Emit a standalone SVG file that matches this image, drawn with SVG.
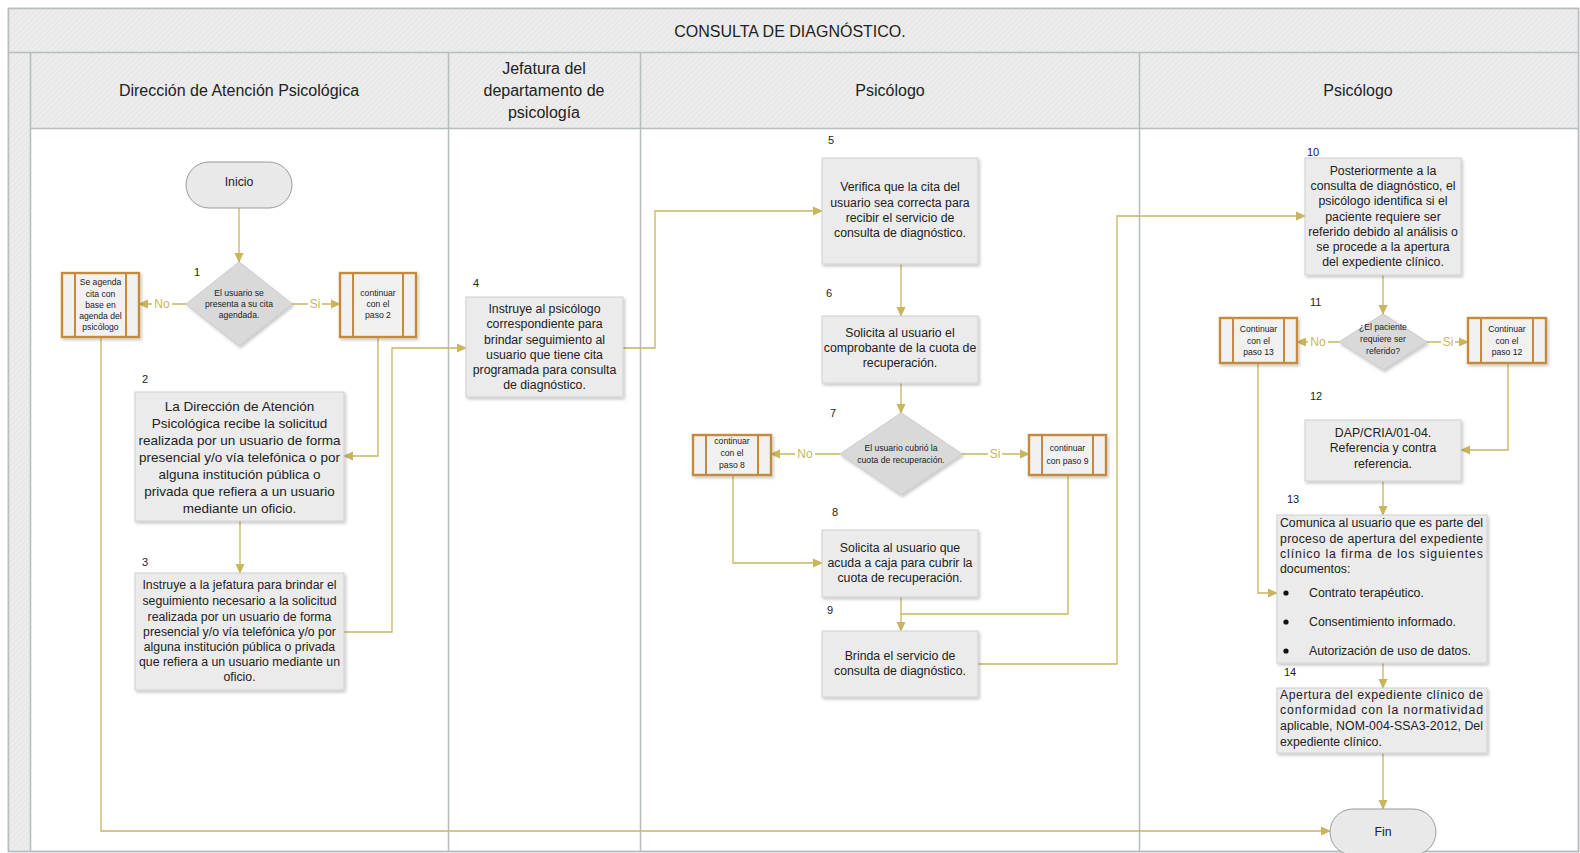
<svg xmlns="http://www.w3.org/2000/svg" width="1580" height="853" viewBox="0 0 1580 853">
<style>
text{font-family:"Liberation Sans",Arial,sans-serif;fill:#222}
.hd{font-size:16px;text-anchor:middle}
.bx{fill:#ebebeb;stroke:#cfcfcf;stroke-width:1;filter:url(#sh)}
.bt{font-size:12.3px;text-anchor:middle}
.num{font-size:11px}
.sp{fill:#f1f1f1;stroke:#c58a3a;stroke-width:2.4;filter:url(#sh)}
.spl{stroke:#c58a3a;stroke-width:2;fill:none}
.st{font-size:8.6px;text-anchor:middle}
.dm{fill:#d9d9d9;stroke:#c9c9c9;stroke-width:1;filter:url(#sh)}
.tm{fill:#e9e9e9;stroke:#9a9a9a;stroke-width:1}
.cn{fill:none;stroke:#c8b55e;stroke-width:1.3}
.ar{marker-end:url(#ah)}
.lb{font-size:12px;fill:#c8b55e;text-anchor:middle}
.lane{stroke:#b5bdbd;stroke-width:1.5;fill:none}
.hb{fill:url(#hatch)}
</style>
<defs>
<pattern id="hatch" width="4" height="4" patternUnits="userSpaceOnUse" patternTransform="rotate(45)">
<rect width="4" height="4" fill="#ececec"/>
<line x1="0" y1="0" x2="0" y2="4" stroke="#e3e3e3" stroke-width="1.5"/>
</pattern>
<filter id="sh" x="-10%" y="-10%" width="130%" height="130%">
<feDropShadow dx="1.5" dy="2" stdDeviation="1.5" flood-color="#000" flood-opacity="0.22"/>
</filter>
<marker id="ah" markerWidth="10" markerHeight="10" refX="9" refY="5" orient="auto" markerUnits="userSpaceOnUse">
<path d="M0,0.5 L10,5 L0,9.5 z" fill="#c8b55e"/>
</marker>
</defs>
<rect x="0" y="0" width="1580" height="853" fill="#fff"/>
<g id="pool">
<rect x="8.5" y="8.5" width="1570" height="843" fill="#fff" stroke="#b5bdbd" stroke-width="1.5"/>
<rect class="hb" x="8.5" y="8.5" width="1570" height="44"/>
<rect class="hb" x="8.5" y="52.5" width="22" height="799"/>
<rect class="hb" x="30.5" y="52.5" width="1548" height="76"/>
<path class="lane" d="M8.5,52.5 H1578.5 M30.5,128.5 H1578.5 M30.5,52.5 V851.5 M448.5,52.5 V851.5 M640.5,52.5 V851.5 M1139.5,52.5 V851.5 M8.5,8.5 H1578.5 V851.5 H8.5 Z"/>
<text class="hd" x="790" y="37">CONSULTA DE DIAGNÓSTICO.</text>
<text class="hd" x="239" y="96">Dirección de Atención Psicológica</text>
<text class="hd" x="544" y="74">Jefatura del</text>
<text class="hd" x="544" y="96">departamento de</text>
<text class="hd" x="544" y="118">psicología</text>
<text class="hd" x="890" y="96">Psicólogo</text>
<text class="hd" x="1358" y="96">Psicólogo</text>
</g>
<g id="connectors">
<path class="cn ar" d="M239,208 V262"/>
<path class="cn ar" d="M186,304 H139"/>
<path class="cn ar" d="M292,304 H340"/>
<path class="cn ar" d="M378,337 V456 H344"/>
<path class="cn ar" d="M240,521 V573"/>
<path class="cn ar" d="M344,632 H392 V348 H466"/>
<path class="cn ar" d="M623,348 H655 V211 H822"/>
<path class="cn ar" d="M901,264 V316"/>
<path class="cn ar" d="M901,383 V413"/>
<path class="cn ar" d="M840,454 H771"/>
<path class="cn ar" d="M962,454 H1029"/>
<path class="cn ar" d="M733,475 V563 H822"/>
<path class="cn ar" d="M901,597 V631"/>
<path class="cn" d="M1068,475 V614 H901"/>
<path class="cn ar" d="M978,664 H1117 V216 H1305"/>
<path class="cn ar" d="M1383,275 V314"/>
<path class="cn ar" d="M1339,342 H1297"/>
<path class="cn ar" d="M1427,342 H1468"/>
<path class="cn ar" d="M1258,363 V593 H1277"/>
<path class="cn ar" d="M1508,363 V450 H1461"/>
<path class="cn ar" d="M1383,481 V515"/>
<path class="cn ar" d="M1383,663 V688"/>
<path class="cn ar" d="M1383,753 V809"/>
<path class="cn ar" d="M101,337 V831 H1330"/>
<rect x="152" y="297" width="20" height="14" fill="#fff"/>
<text class="lb" x="162" y="308">No</text>
<rect x="308" y="297" width="14" height="14" fill="#fff"/>
<text class="lb" x="315" y="308">Si</text>
<rect x="795" y="447" width="20" height="14" fill="#fff"/>
<text class="lb" x="805" y="458">No</text>
<rect x="988" y="447" width="14" height="14" fill="#fff"/>
<text class="lb" x="995" y="458">Si</text>
<rect x="1308" y="335" width="20" height="14" fill="#fff"/>
<text class="lb" x="1318" y="346">No</text>
<rect x="1441" y="335" width="14" height="14" fill="#fff"/>
<text class="lb" x="1448" y="346">Si</text>
</g>
<g id="inicio">
<rect class="tm" x="186" y="162" width="106" height="46" rx="23"/>
<text class="bt" x="239" y="186">Inicio</text>
</g>
<g id="d1">
<polygon class="dm" points="239,262 292,304 239,346 186,304"/>
<text class="num" x="194" y="276">1</text>
<text class="st" x="239" y="296">El usuario se</text>
<text class="st" x="239" y="307">presenta a su cita</text>
<text class="st" x="239" y="318">agendada.</text>
</g>
<g id="sp-agenda">
<rect class="sp" x="62" y="273" width="77" height="64"/>
<path class="spl" d="M75,273 V337 M126,273 V337"/>
<text class="st" x="100.5" y="285">Se agenda</text>
<text class="st" x="100.5" y="297">cita con</text>
<text class="st" x="100.5" y="308">base en</text>
<text class="st" x="100.5" y="319">agenda del</text>
<text class="st" x="100.5" y="330">psicólogo</text>
</g>
<g id="sp-paso2">
<rect class="sp" x="340" y="273" width="76" height="64"/>
<path class="spl" d="M353,273 V337 M403,273 V337"/>
<text class="st" x="378" y="296">continuar</text>
<text class="st" x="378" y="307">con el</text>
<text class="st" x="378" y="318">paso 2</text>
</g>
<g id="n2">
<text class="num" x="142" y="383">2</text>
<rect class="bx" x="135" y="392" width="209" height="129"/>
<text class="bt" style="font-size:13.5px" x="239.5" y="411">La Dirección de Atención</text>
<text class="bt" style="font-size:13.5px" x="239.5" y="428">Psicológica recibe la solicitud</text>
<text class="bt" style="font-size:13.5px" x="239.5" y="445">realizada por un usuario de forma</text>
<text class="bt" style="font-size:13.5px" x="239.5" y="462">presencial y/o vía telefónica o por</text>
<text class="bt" style="font-size:13.5px" x="239.5" y="479">alguna institución pública o</text>
<text class="bt" style="font-size:13.5px" x="239.5" y="496">privada que refiera a un usuario</text>
<text class="bt" style="font-size:13.5px" x="239.5" y="513">mediante un oficio.</text>
</g>
<g id="n3">
<text class="num" x="142" y="566">3</text>
<rect class="bx" x="135" y="573" width="209" height="117"/>
<text class="bt" x="239.5" y="589">Instruye a la jefatura para brindar el</text>
<text class="bt" x="239.5" y="605">seguimiento necesario a la solicitud</text>
<text class="bt" x="239.5" y="621">realizada por un usuario de forma</text>
<text class="bt" x="239.5" y="636">presencial y/o vía telefónica y/o por</text>
<text class="bt" x="239.5" y="651">alguna institución pública o privada</text>
<text class="bt" x="239.5" y="666">que refiera a un usuario mediante un</text>
<text class="bt" x="239.5" y="681">oficio.</text>
</g>
<g id="n4">
<text class="num" x="473" y="287">4</text>
<rect class="bx" x="466" y="297" width="157" height="100"/>
<text class="bt" x="544.5" y="313">Instruye al psicólogo</text>
<text class="bt" x="544.5" y="328">correspondiente para</text>
<text class="bt" x="544.5" y="344">brindar seguimiento al</text>
<text class="bt" x="544.5" y="359">usuario que tiene cita</text>
<text class="bt" x="544.5" y="374">programada para consulta</text>
<text class="bt" x="544.5" y="389">de diagnóstico.</text>
</g>
<g id="n5">
<text class="num" x="828" y="144">5</text>
<rect class="bx" x="822" y="158" width="156" height="106"/>
<text class="bt" x="900" y="191">Verifica que la cita del</text>
<text class="bt" x="900" y="207">usuario sea correcta para</text>
<text class="bt" x="900" y="222">recibir el servicio de</text>
<text class="bt" x="900" y="237">consulta de diagnóstico.</text>
</g>
<g id="n6">
<text class="num" x="826" y="297">6</text>
<rect class="bx" x="822" y="316" width="156" height="67"/>
<text class="bt" x="900" y="337">Solicita al usuario el</text>
<text class="bt" x="900" y="352">comprobante de la cuota de</text>
<text class="bt" x="900" y="367">recuperación.</text>
</g>
<g id="d7">
<polygon class="dm" points="901,413 962,454 901,495 840,454"/>
<text class="num" x="830" y="417">7</text>
<text class="st" x="901" y="451">El usuario cubrió la</text>
<text class="st" x="901" y="463">cuota de recuperación.</text>
</g>
<g id="sp-paso8">
<rect class="sp" x="693" y="435" width="78" height="40"/>
<path class="spl" d="M706,435 V475 M758,435 V475"/>
<text class="st" x="732" y="444">continuar</text>
<text class="st" x="732" y="456">con el</text>
<text class="st" x="732" y="468">paso 8</text>
</g>
<g id="sp-paso9">
<rect class="sp" x="1029" y="435" width="77" height="40"/>
<path class="spl" d="M1042,435 V475 M1093,435 V475"/>
<text class="st" x="1067.5" y="451">continuar</text>
<text class="st" x="1067.5" y="464">con paso 9</text>
</g>
<g id="n8">
<text class="num" x="832" y="516">8</text>
<rect class="bx" x="822" y="530" width="156" height="67"/>
<text class="bt" x="900" y="552">Solicita al usuario que</text>
<text class="bt" x="900" y="567">acuda a caja para cubrir la</text>
<text class="bt" x="900" y="582">cuota de recuperación.</text>
</g>
<g id="n9">
<text class="num" x="827" y="614">9</text>
<rect class="bx" x="822" y="631" width="156" height="66"/>
<text class="bt" x="900" y="660">Brinda el servicio de</text>
<text class="bt" x="900" y="675">consulta de diagnóstico.</text>
</g>
<g id="n10">
<text class="num" x="1307" y="156">10</text>
<rect class="bx" x="1305" y="158" width="156" height="117"/>
<text class="bt" x="1383" y="175">Posteriormente a la</text>
<text class="bt" x="1383" y="190">consulta de diagnóstico, el</text>
<text class="bt" x="1383" y="205">psicólogo identifica si el</text>
<text class="bt" x="1383" y="221">paciente requiere ser</text>
<text class="bt" x="1383" y="236">referido debido al análisis o</text>
<text class="bt" x="1383" y="251">se procede a la apertura</text>
<text class="bt" x="1383" y="266">del expediente clínico.</text>
</g>
<g id="d11">
<polygon class="dm" points="1383,314 1427,342 1383,370 1339,342"/>
<text class="num" x="1310" y="306">11</text>
<text class="st" x="1383" y="330">¿El paciente</text>
<text class="st" x="1383" y="342">requiere ser</text>
<text class="st" x="1383" y="354">referido?</text>
</g>
<g id="sp-paso13">
<rect class="sp" x="1220" y="318" width="77" height="45"/>
<path class="spl" d="M1233,318 V363 M1284,318 V363"/>
<text class="st" x="1258.5" y="332">Continuar</text>
<text class="st" x="1258.5" y="344">con el</text>
<text class="st" x="1258.5" y="355">paso 13</text>
</g>
<g id="sp-paso12">
<rect class="sp" x="1468" y="318" width="78" height="45"/>
<path class="spl" d="M1481,318 V363 M1533,318 V363"/>
<text class="st" x="1507" y="332">Continuar</text>
<text class="st" x="1507" y="344">con el</text>
<text class="st" x="1507" y="355">paso 12</text>
</g>
<g id="n12">
<text class="num" x="1310" y="400">12</text>
<rect class="bx" x="1305" y="420" width="156" height="61"/>
<text class="bt" x="1383" y="437">DAP/CRIA/01-04.</text>
<text class="bt" x="1383" y="452">Referencia y contra</text>
<text class="bt" x="1383" y="468">referencia.</text>
</g>
<g id="n13">
<text class="num" x="1287" y="503">13</text>
<rect class="bx" x="1277" y="515" width="210" height="148"/>
<text class="bt" style="text-anchor:start" x="1280" y="527" textLength="203" lengthAdjust="spacing">Comunica al usuario que es parte del</text>
<text class="bt" style="text-anchor:start" x="1280" y="543" textLength="203" lengthAdjust="spacing">proceso de apertura del expediente</text>
<text class="bt" style="text-anchor:start" x="1280" y="558" textLength="203" lengthAdjust="spacing">clínico la firma de los siguientes</text>
<text class="bt" style="text-anchor:start" x="1280" y="573">documentos:</text>
<circle cx="1286" cy="593" r="2.6" fill="#111"/>
<text class="bt" style="text-anchor:start" x="1309" y="597">Contrato terapéutico.</text>
<circle cx="1286" cy="622" r="2.6" fill="#111"/>
<text class="bt" style="text-anchor:start" x="1309" y="626">Consentimiento informado.</text>
<circle cx="1286" cy="651" r="2.6" fill="#111"/>
<text class="bt" style="text-anchor:start" x="1309" y="655">Autorización de uso de datos.</text>
</g>
<g id="n14">
<text class="num" x="1284" y="676">14</text>
<rect class="bx" x="1277" y="688" width="210" height="65"/>
<text class="bt" style="text-anchor:start" x="1280" y="699" textLength="203" lengthAdjust="spacing">Apertura del expediente clínico de</text>
<text class="bt" style="text-anchor:start" x="1280" y="714" textLength="203" lengthAdjust="spacing">conformidad con la normatividad</text>
<text class="bt" style="text-anchor:start" x="1280" y="730" textLength="203" lengthAdjust="spacing">aplicable, NOM-004-SSA3-2012, Del</text>
<text class="bt" style="text-anchor:start" x="1280" y="746">expediente clínico.</text>
</g>
<g id="fin">
<rect class="tm" x="1330" y="809" width="106" height="46" rx="23"/>
<text class="bt" x="1383" y="836">Fin</text>
</g>
</svg>
